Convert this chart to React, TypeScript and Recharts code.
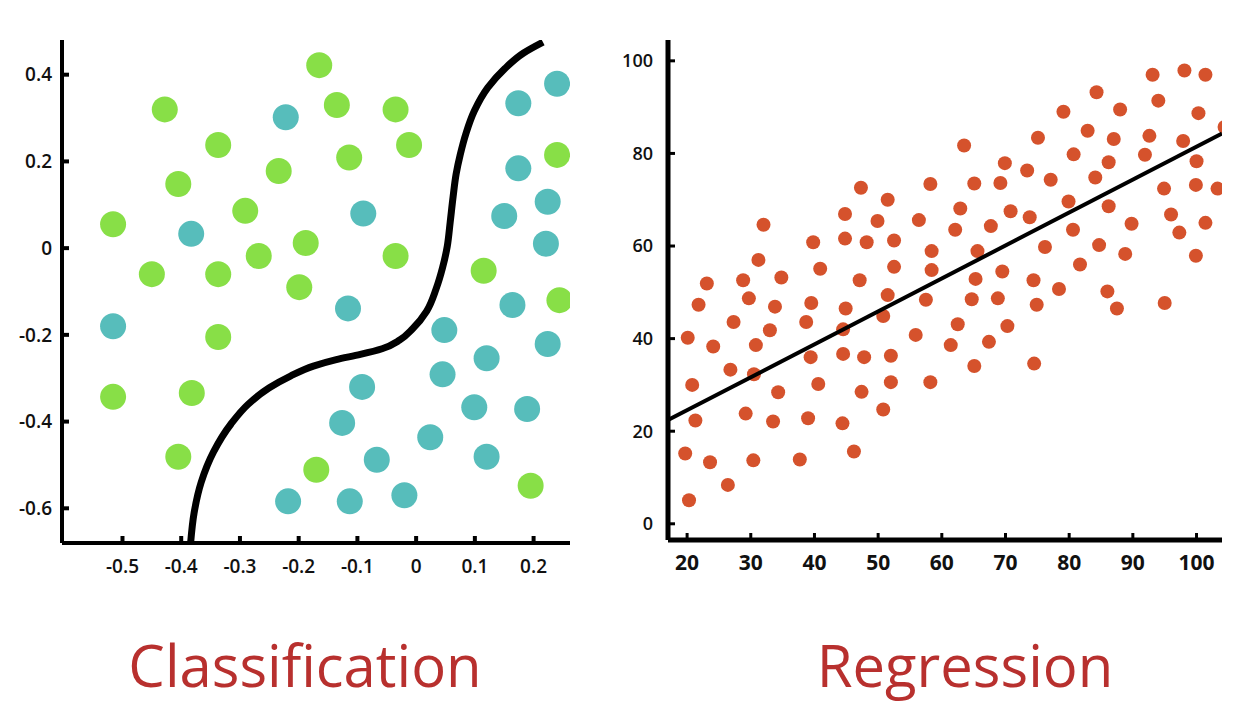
import React from 'react';
import { ScatterChart, Scatter, XAxis, YAxis } from 'recharts';

const greenPts = [
  [-0.165,0.422],[-0.428,0.32],[-0.135,0.33],[-0.035,0.32],[-0.337,0.238],[-0.012,0.238],
  [-0.114,0.209],[-0.234,0.178],[-0.405,0.148],[-0.291,0.086],[-0.516,0.055],[-0.188,0.012],
  [-0.268,-0.018],[-0.035,-0.018],[-0.45,-0.06],[-0.337,-0.06],[-0.199,-0.09],[0.115,-0.052],
  [0.244,-0.12],[-0.337,-0.205],[-0.516,-0.343],[-0.382,-0.334],[-0.405,-0.481],[-0.17,-0.511],
  [0.195,-0.548],[0.24,0.215],
].map(([x, y]) => ({ x, y }));

const tealPts = [
  [-0.222,0.302],[-0.09,0.08],[-0.383,0.033],[-0.116,-0.139],[-0.516,-0.18],[0.174,0.334],
  [0.24,0.379],[0.174,0.184],[0.224,0.107],[0.15,0.074],[0.221,0.01],[0.164,-0.131],
  [0.048,-0.189],[0.224,-0.221],[0.12,-0.254],[0.045,-0.291],[-0.092,-0.32],[0.099,-0.367],
  [0.189,-0.371],[-0.126,-0.403],[0.024,-0.436],[-0.067,-0.488],[0.12,-0.481],[-0.218,-0.584],
  [-0.113,-0.584],[-0.02,-0.57],
].map(([x, y]) => ({ x, y }));

const boundary = [
  [-0.384,-0.68],[-0.378,-0.61],[-0.366,-0.54],[-0.345,-0.47],[-0.315,-0.405],[-0.286,-0.36],
  [-0.25,-0.322],[-0.214,-0.295],[-0.175,-0.272],[-0.136,-0.257],[-0.095,-0.245],[-0.058,-0.232],
  [-0.028,-0.212],[-0.006,-0.186],[0.018,-0.145],[0.034,-0.094],[0.045,-0.045],[0.053,0.004],
  [0.058,0.06],[0.063,0.119],[0.068,0.17],[0.075,0.215],[0.085,0.265],[0.099,0.316],
  [0.122,0.37],[0.151,0.414],[0.183,0.45],[0.216,0.475],
].map(([x, y]) => ({ x, y }));

const classXTicks = [-0.5,-0.4,-0.3,-0.2,-0.1,0,0.1,0.2];
const classYTicks = [0.4,0.2,0,-0.2,-0.4,-0.6];

const regPts = [
  [20.1,40.2],[19.7,15.2],[20.3,5.1],[20.8,30],[21.3,22.3],[21.8,47.3],[23.1,51.9],[23.6,13.3],
  [24.1,38.3],[26.4,8.4],[26.8,33.3],[27.3,43.6],[28.8,52.6],[29.2,23.8],[29.7,48.7],[30.4,13.7],
  [30.5,32.3],[30.8,38.6],[31.2,57],[32,64.6],[33,41.8],[33.5,22.1],[33.8,46.9],[34.3,28.4],
  [34.8,53.2],[37.7,13.9],[38.7,43.6],[39,22.8],[39.4,36],[39.5,47.7],[39.8,60.8],[40.6,30.2],
  [40.9,55.1],[44.4,21.7],[44.5,36.7],[44.5,42],[44.8,66.9],[44.8,61.6],[44.9,46.5],[46.2,15.6],
  [47.1,52.6],[47.3,72.6],[47.4,28.5],[47.8,36],[48.2,60.8],[49.9,65.4],[50.8,24.7],[50.8,44.9],
  [51.5,49.4],[51.5,70],[52,36.3],[52,30.6],[52.5,61.2],[52.5,55.5],[55.9,40.8],[56.4,65.6],
  [57.5,48.4],[58.2,73.4],[58.2,30.6],[58.4,58.9],[58.4,54.8],[61.4,38.6],[62.1,63.5],[62.5,43.1],
  [62.9,68.1],[63.5,81.7],[64.7,48.5],[65.1,34.1],[65.1,73.5],[65.3,52.9],[65.6,58.9],[67.4,39.3],
  [67.7,64.3],[68.8,48.7],[69.2,73.6],[69.5,54.5],[69.9,77.9],[70.3,42.7],[70.8,67.5],[73.4,76.3],
  [73.8,66.2],[74.4,52.6],[74.5,34.6],[74.9,47.3],[75.1,83.4],[76.2,59.8],[77.1,74.3],[78.4,50.7],
  [79.1,89],[79.9,69.6],[80.6,63.5],[80.7,79.8],[81.7,56],[82.9,84.9],[84.1,74.8],[84.3,93.2],
  [84.7,60.2],[86,50.2],[86.2,78.1],[86.2,68.6],[87,83.1],[87.5,46.5],[88,89.5],[88.8,58.3],
  [89.8,64.8],[91.9,79.7],[92.6,83.8],[93.1,97],[94,91.4],[94.9,72.4],[95,47.7],[96,66.8],
  [97.3,62.9],[97.9,82.7],[98.1,97.9],[99.9,73.2],[99.9,57.9],[100,78.3],[100.3,88.7],[101.4,97],
  [101.4,65],[103.3,72.4],[104.4,85.7],
].map(([x, y]) => ({ x, y }));

const regLine = [{ x: 17, y: 22.4 }, { x: 104, y: 84.3 }];
const regXTicks = [20,30,40,50,60,70,80,90,100];
const regYTicks = [0,20,40,60,80,100];

const dot = (r: number, fill: string) => (p: any) => <circle cx={p.cx} cy={p.cy} r={r} fill={fill} />;
const none = () => <g />;
const tickFont = { fontFamily: 'Open Sans', fontWeight: 600, fill: '#111' };

export default function App() {
  return (
    <div style={{ position: 'absolute', left: 0, top: 0, width: 1258, height: 708, background: '#fff' }}>
      <div style={{ position: 'absolute', left: 0, top: 0 }}>
        <ScatterChart width={600} height={600} margin={{ top: 40, right: 30, bottom: 0, left: 0 }}>
          <XAxis type="number" dataKey="x" domain={[-0.603, 0.262]} ticks={classXTicks} height={57}
            axisLine={{ stroke: '#000', strokeWidth: 4 }} tickLine={{ stroke: '#000', strokeWidth: 4 }}
            tickSize={-7} tickMargin={24} tick={{ ...tickFont, fontSize: 19 }} allowDataOverflow />
          <YAxis type="number" dataKey="y" domain={[-0.68, 0.48]} ticks={classYTicks} width={62}
            axisLine={{ stroke: '#000', strokeWidth: 4 }} tickLine={{ stroke: '#000', strokeWidth: 4 }}
            tickSize={-7} tickMargin={17} tick={{ ...tickFont, fontSize: 19 }} allowDataOverflow />
          <Scatter data={greenPts} shape={dot(13, '#88df47')} isAnimationActive={false} />
          <Scatter data={tealPts} shape={dot(13, '#57bdbb')} isAnimationActive={false} />
          <Scatter data={boundary} shape={none} line={{ stroke: '#000', strokeWidth: 7 }}
            lineJointType="monotoneY" isAnimationActive={false} />
        </ScatterChart>
      </div>
      <div style={{ position: 'absolute', left: 600, top: 0 }}>
        <ScatterChart width={640} height={590} margin={{ top: 40, right: 18, bottom: 0, left: 0 }}>
          <XAxis type="number" dataKey="x" domain={[17, 104]} ticks={regXTicks} height={50}
            axisLine={{ stroke: '#000', strokeWidth: 5 }} tickLine={{ stroke: '#000', strokeWidth: 3 }}
            tickSize={-7} tickMargin={22} tick={{ ...tickFont, fontSize: 21, fontWeight: 700 }} allowDataOverflow />
          <XAxis xAxisId="top" orientation="top" type="number" dataKey="x" domain={[17, 104]} height={0}
            axisLine={{ stroke: '#000', strokeWidth: 5 }} tick={false} tickLine={false} />
          <YAxis type="number" dataKey="y" domain={[-3.5, 104.5]} ticks={regYTicks} width={68}
            axisLine={{ stroke: '#000', strokeWidth: 5 }} tickLine={{ stroke: '#000', strokeWidth: 3 }}
            tickSize={-7} tickMargin={22} tick={{ ...tickFont, fontSize: 18 }} allowDataOverflow />
          <YAxis yAxisId="right" orientation="right" type="number" dataKey="y" domain={[-3.5, 104.5]} width={0}
            axisLine={{ stroke: '#000', strokeWidth: 5 }} tick={false} tickLine={false} />
          <Scatter data={regPts} shape={dot(7, '#d5522c')} isAnimationActive={false} />
          <Scatter data={regLine} shape={none} line={{ stroke: '#000', strokeWidth: 4 }} isAnimationActive={false} />
        </ScatterChart>
      </div>
      <div style={{ position: 'absolute', left: 60, width: 490, top: 625, textAlign: 'center',
        fontFamily: 'Open Sans', fontSize: 58, color: '#b8302e', lineHeight: '80px' }}>Classification</div>
      <div style={{ position: 'absolute', left: 720, width: 490, top: 625, textAlign: 'center',
        fontFamily: 'Open Sans', fontSize: 58, color: '#b8302e', lineHeight: '80px' }}>Regression</div>
    </div>
  );
}
